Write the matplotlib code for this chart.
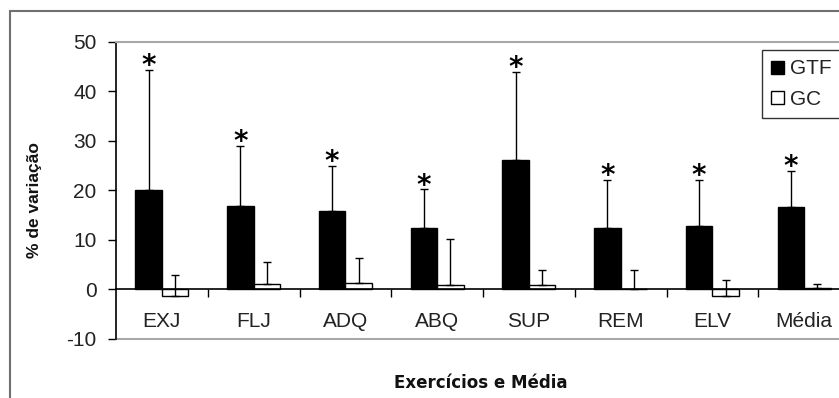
import numpy as np
import matplotlib
matplotlib.use('Agg')
import matplotlib.pyplot as plt
from matplotlib.patches import Rectangle, Patch
from matplotlib.lines import Line2D

# Dados
categorias = ['EXJ', 'FLJ', 'ADQ', 'ABQ', 'SUP', 'REM', 'ELV', 'Média']
gtf = [20.0, 16.8, 15.8, 12.5, 26.1, 12.5, 12.8, 16.6]
gtf_dp = [24.3, 12.1, 9.2, 7.7, 17.8, 9.6, 9.3, 7.3]
gc = [-1.3, 1.1, 1.3, 0.9, 0.9, 0.0, -1.3, 0.3]
gc_dp = [4.2, 4.5, 5.0, 9.2, 3.1, 4.0, 3.2, 0.8]

plt.rcParams['font.family'] = ['Liberation Sans', 'DejaVu Sans']
plt.rcParams['axes.unicode_minus'] = False

fig = plt.figure(figsize=(8.39, 3.98), dpi=100)
ax = fig.add_axes([116 / 839, 1 - 339 / 398, 734 / 839, 297.2 / 398])

x = np.arange(len(categorias))
w = 0.29

ax.bar(x - w / 2, gtf, w, color='black', edgecolor='black', linewidth=1, label='GTF', zorder=2)
ax.bar(x + w / 2, gc, w, color='white', edgecolor='black', linewidth=1, label='GC', zorder=2)

ax.errorbar(x - w / 2, gtf, yerr=[np.zeros(len(gtf)), gtf_dp], fmt='none',
            ecolor='black', elinewidth=1, capsize=3, capthick=1, zorder=3)
ax.errorbar(x + w / 2, gc, yerr=[np.zeros(len(gc)), gc_dp], fmt='none',
            ecolor='black', elinewidth=1, capsize=3, capthick=1, zorder=3)

# Asteriscos de significância
for xi, v, e in zip(x - w / 2, gtf, gtf_dp):
    ax.annotate('*', (xi, v + e), xytext=(0, -3), textcoords='offset points',
                ha='center', va='baseline', fontsize=20, fontweight='bold',
                family='DejaVu Sans', color='black')

ax.set_xlim(-0.5, len(categorias) - 0.5)
ax.set_ylim(-10, 50)
ax.set_yticks(np.arange(-10, 51, 10))

# eixo horizontal no zero, com marcas entre categorias
ax.spines['bottom'].set_position(('data', 0))
ax.spines['bottom'].set_color('black')
ax.spines['bottom'].set_linewidth(1.2)
ax.spines['left'].set_color('black')
ax.spines['left'].set_linewidth(1.2)
ax.spines['top'].set_color('#a8a8a8')
ax.spines['top'].set_linewidth(1.5)
ax.spines['right'].set_color('#a8a8a8')
ax.add_line(Line2D([0, 1], [0, 0], transform=ax.transAxes, color='#a8a8a8',
                   linewidth=1.5, clip_on=False))

ax.set_xticks(x)
ax.set_xticklabels(categorias)
ax.set_xticks(x + 0.5, minor=True)
ax.tick_params(axis='x', which='major', length=0, pad=16, labelsize=15, labelcolor='#222222')
ax.tick_params(axis='x', which='minor', length=6, width=1, direction='out', color='black')
ax.tick_params(axis='y', length=6, width=1, pad=8, labelsize=15, labelcolor='#222222')

ax.set_ylabel('% de variação', fontsize=12.5, fontweight='bold', color='#111111')
ax.yaxis.set_label_coords(-0.101, 0.468)
ax.set_xlabel('Exercícios e Média', fontsize=12, fontweight='bold', family='DejaVu Sans',
              color='#111111')
ax.xaxis.set_label_coords(0.497, -0.118)

handles = [Patch(facecolor='black', edgecolor='black'),
           Patch(facecolor='white', edgecolor='black')]
leg = ax.legend(handles, ['GTF', 'GC'], loc='upper left', bbox_to_anchor=(0.880, 0.972),
                borderaxespad=0, fontsize=15, frameon=True, fancybox=False,
                handlelength=0.6, handleheight=0.6, handletextpad=0.3,
                labelspacing=0.55, borderpad=0.45)
leg.get_frame().set_edgecolor('black')
leg.get_frame().set_linewidth(1)
for t in leg.get_texts():
    t.set_color('#222222')

# moldura externa do gráfico
fig.add_artist(Rectangle((10 / 839, -0.2), 1.2, 1.2 - 11 / 398, transform=fig.transFigure,
                         fill=False, edgecolor='#707070', linewidth=1.5))

fig.savefig('out.png', dpi=100, facecolor='white')
